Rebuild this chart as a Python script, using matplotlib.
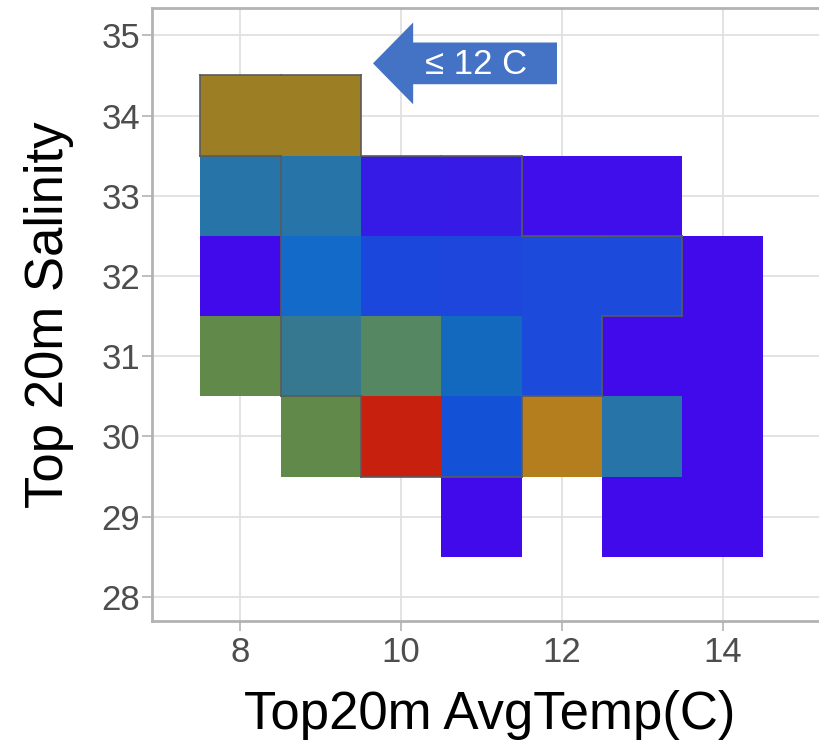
import numpy as np
import matplotlib.pyplot as plt
from matplotlib.patches import FancyArrow
from matplotlib.collections import LineCollection

# tile centres (temperature, salinity) and fill colours
temp = [8, 9,
        8, 9, 10, 11, 12, 13,
        8, 9, 10, 11, 12, 13, 14,
        8, 9, 10, 11, 12, 13, 14,
        9, 10, 11, 12, 13, 14,
        11, 13, 14]
salinity = [34, 34,
            33, 33, 33, 33, 33, 33,
            32, 32, 32, 32, 32, 32, 32,
            31, 31, 31, 31, 31, 31, 31,
            30, 30, 30, 30, 30, 30,
            29, 29, 29]
colors = ['#9C7E25', '#9C7E25',
          '#2775A8', '#2775A8', '#361BE6', '#371AE5', '#400DEB', '#400DEB',
          '#400AEB', '#136AC8', '#1C47DC', '#1E45DC', '#1C4ADB', '#1C4ADB', '#400AEB',
          '#618A4A', '#367890', '#548762', '#1369BE', '#1C4ADB', '#400AEB', '#400AEB',
          '#618A4A', '#C8200F', '#1352D6', '#B47D1D', '#2775A8', '#400AEB',
          '#400AEB', '#400AEB', '#400AEB']

# cells belonging to the outlined "<= 12 C" group
group = [(8, 34), (9, 34),
         (9, 33), (10, 33), (11, 33),
         (9, 32), (10, 32), (11, 32), (12, 32), (13, 32),
         (9, 31), (10, 31), (11, 31), (12, 31),
         (10, 30), (11, 30)]

xticks = [8, 10, 12, 14]
yticks = [28, 29, 30, 31, 32, 33, 34, 35]

plt.rcParams['font.family'] = ['Liberation Sans', 'DejaVu Sans']

fig = plt.figure(figsize=(8.2, 7.48), dpi=100)
ax = fig.add_axes([152 / 820, 127 / 748, 675 / 820, 613 / 748])

ax.set_axisbelow(True)
ax.grid(True, color='#E0E0E0', lw=1.3)

ax.bar(temp, 1.0, width=1.0, bottom=np.array(salinity) - 0.5,
       color=colors, edgecolor='none', linewidth=0, zorder=2)

# outline of the group: unit edges not shared between two group cells
cells = set(group)
segs = []
for cx, cy in group:
    if (cx - 1, cy) not in cells:
        segs.append([(cx - 0.5, cy - 0.5), (cx - 0.5, cy + 0.5)])
    if (cx + 1, cy) not in cells:
        segs.append([(cx + 0.5, cy - 0.5), (cx + 0.5, cy + 0.5)])
    if (cx, cy - 1) not in cells:
        segs.append([(cx - 0.5, cy - 0.5), (cx + 0.5, cy - 0.5)])
    if (cx, cy + 1) not in cells:
        segs.append([(cx - 0.5, cy + 0.5), (cx + 0.5, cy + 0.5)])
ax.add_collection(LineCollection(segs, colors='#5A5A5A', linewidths=1.2,
                                 zorder=3, capstyle='projecting'))

# callout arrow
ax.add_patch(FancyArrow(11.94, 34.65, -2.29, 0, width=0.52, head_width=1.02,
                        head_length=0.5, length_includes_head=True,
                        color='#4472C4', lw=0, zorder=4))
ax.text(10.93, 34.63, '\u2264 12 C', color='white', fontsize=25,
        ha='center', va='center', zorder=5)

ax.set_xlim(6.9, 15.3)
ax.set_ylim(27.7, 35.34)
ax.set_xticks(xticks)
ax.set_yticks(yticks)
ax.tick_params(colors='#4D4D4D', labelsize=25, length=7, width=1.2)
ax.tick_params(axis='both', color='#B3B3B3')
ax.tick_params(axis='x', pad=4)
ax.tick_params(axis='y', pad=1.5)

for side in ['left', 'top', 'bottom']:
    ax.spines[side].set_color('#B3B3B3')
    ax.spines[side].set_linewidth(2)
ax.spines['right'].set_visible(False)

ax.set_xlabel('Top20m AvgTemp(C)', fontsize=38, color='black', labelpad=15)
ax.set_ylabel('Top 20m Salinity', fontsize=38, color='black', labelpad=20)

plt.savefig('out.png', dpi=100)
